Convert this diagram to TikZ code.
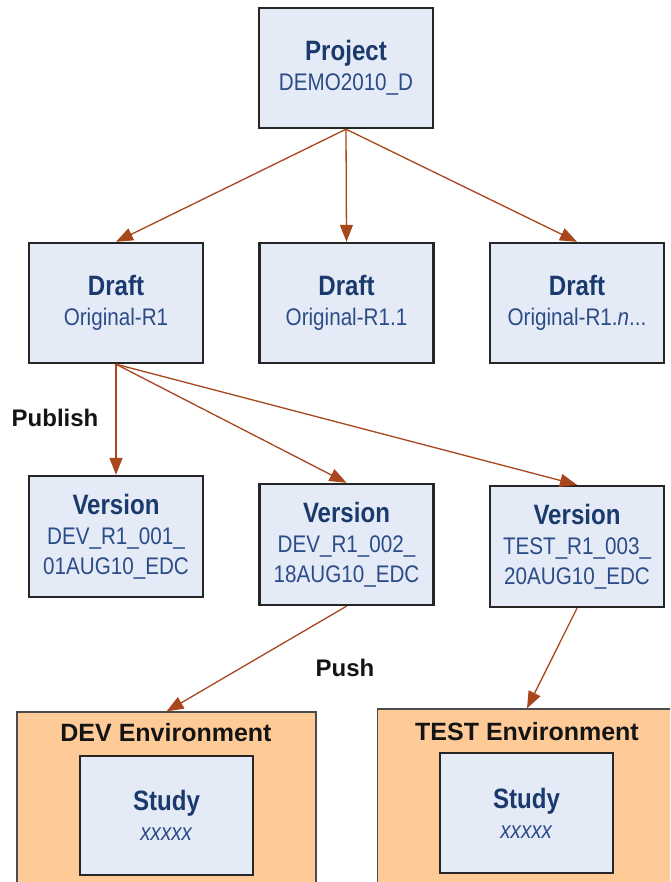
\documentclass[tikz,border=0pt]{standalone}
\usepackage{fontspec}
\setmainfont{Liberation Sans}
\newfontfamily\narrowfont{Liberation Sans}[FakeStretch=0.86]
\usetikzlibrary{arrows.meta}
\definecolor{boxfill}{HTML}{E5EBF6}
\definecolor{ttlcol}{HTML}{1A3A6E}
\definecolor{subcol}{HTML}{2C4C88}
\definecolor{envfill}{HTML}{FDCA98}
\definecolor{arrcol}{HTML}{A8461C}
\newcommand{\boxttl}[1]{{\narrowfont\bfseries\fontsize{28}{30}\selectfont\color{ttlcol}#1}}
\newcommand{\boxsub}[1]{{\narrowfont\fontsize{24}{30}\selectfont\color{subcol}#1}}
\tikzset{
  x=1pt, y=-1pt,
  bluebox/.style={draw=black!85, line width=2.4pt, fill=boxfill, rectangle,
    minimum width=174pt, minimum height=120pt, inner sep=0pt, align=center,
    font=\fontsize{24}{30}\selectfont},
  envbox/.style={draw=black!70, line width=1.2pt, fill=envfill, rectangle,
    minimum width=299pt, minimum height=200pt, inner sep=0pt},
  envtitle/.style={font=\bfseries\fontsize{25}{30}\selectfont, text=black!92, inner sep=0pt},
  actlabel/.style={font=\bfseries\fontsize{24}{30}\selectfont, text=black!92, inner sep=0pt},
  arr/.style={draw=arrcol, line width=1.3pt, -{Triangle[length=17pt,width=13pt]}, arrcol},
}
\begin{document}
\begin{tikzpicture}
\useasboundingbox (0,0) rectangle (670,882);
\clip (0,0) rectangle (670,882);
\fill[white] (0,0) rectangle (670,882);

% project
\node[bluebox] (proj) at (346,68) {\boxttl{Project}\\\boxsub{DEMO2010\_D}};

% drafts
\node[bluebox] (d1) at (116,303) {\boxttl{Draft}\\\boxsub{Original-R1}};
\node[bluebox] (d2) at (346.5,303) {\boxttl{Draft}\\\boxsub{Original-R1.1}};
\node[bluebox] (d3) at (577,303) {\boxttl{Draft}\\\boxsub{Original-R1.\textit{n}...}};

% versions
\node[bluebox, minimum height=121pt] (v1) at (116,536.5) {\boxttl{Version}\\\boxsub{DEV\_R1\_001\_}\\\boxsub{01AUG10\_EDC}};
\node[bluebox, minimum height=121pt] (v2) at (346.5,544.5) {\boxttl{Version}\\\boxsub{DEV\_R1\_002\_}\\\boxsub{18AUG10\_EDC}};
\node[bluebox, minimum height=121pt] (v3) at (577,546.5) {\boxttl{Version}\\\boxsub{TEST\_R1\_003\_}\\\boxsub{20AUG10\_EDC}};

% environments
\node[envbox] (dev) at (166.5,812) {};
\node[envtitle] (devt) at (166,733) {DEV Environment};
\node[bluebox, minimum width=173pt, minimum height=119pt] (s1) at (166.5,815.5) {\boxttl{Study}\\\boxsub{\textit{xxxxx}}};

\node[envbox] (test) at (527,809) {};
\node[envtitle] (testt) at (527,732) {TEST Environment};
\node[bluebox, minimum width=173pt, minimum height=120pt] (s2) at (526.5,813) {\boxttl{Study}\\\boxsub{\textit{xxxxx}}};

% labels
\node[actlabel] (publish) at (55,418) {Publish};
\node[actlabel] (push) at (345,668) {Push};

% arrows
\draw[arr] (proj.south) -- (d1.north);
\draw[arr] (proj.south) -- (d2.north);
\draw[arr] (proj.south) -- (d3.north);
\draw[arr] (d1.south) -- (v1.north);
\draw[arr] (d1.south) -- (v2.north);
\draw[arr] (d1.south) -- (v3.north);
\draw[arr] (v2.south) -- (dev.north);
\draw[arr] (v3.south) -- (test.north);
\end{tikzpicture}
\end{document}
